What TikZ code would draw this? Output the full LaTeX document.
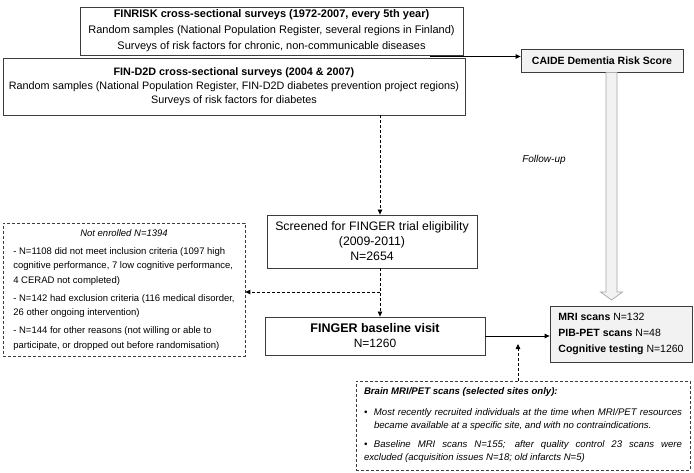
\documentclass[tikz,border=0pt]{standalone}
\usepackage{fontspec}
\setmainfont{Liberation Sans}
\usepackage{tikz}
\usetikzlibrary{
    arrows.meta,
    positioning,
    calc
}
\definecolor{boxborder}{HTML}{3C3C3C}
\definecolor{greyfill}{HTML}{F2F2F2}
\definecolor{arrowborder}{HTML}{A6A6A6}
\tikzset{
    surveybox/.style={
        rectangle, draw=boxborder, line width=0.8pt,
        inner sep=0pt, align=center
    },
    greybox/.style={
        surveybox, fill=greyfill
    },
    dashbox/.style={
        rectangle, draw=boxborder, line width=0.7pt,
        dash pattern=on 3pt off 2pt, inner sep=0pt
    },
    flow/.style={
        -{Triangle[length=5pt, width=4.5pt]}, line width=0.8pt
    },
    dash flow/.style={
        flow, dash pattern=on 3pt off 2pt
    },
    follow arrow/.style={
        draw=arrowborder, fill=greyfill, line width=0.7pt
    },
}

\begin{document}
\begin{tikzpicture}[x=1pt, y=-1pt]
    \useasboundingbox (0,0) rectangle (694,473);

    % Source surveys
    \node[surveybox, minimum width=383pt, minimum height=48pt,
          font=\fontsize{11}{16}\selectfont] (finrisk) at (271.5,31) {
        \textbf{FINRISK cross-sectional surveys (1972-2007, every 5th year)}\\
        Random samples (National Population Register, several regions in Finland)\\
        Surveys of risk factors for chronic, non-communicable diseases
    };
    \node[surveybox, minimum width=462pt, minimum height=57pt,
          font=\fontsize{10.8}{14}\selectfont] (find2d) at (234,86.5) {
        \textbf{FIN-D2D cross-sectional surveys (2004 \& 2007)}\\
        Random samples (National Population Register, FIN-D2D diabetes prevention project regions)\\
        Surveys of risk factors for diabetes
    };

    % Risk score and follow-up
    \node[greybox, minimum width=162pt, minimum height=23pt,
          font=\bfseries\fontsize{10.5}{12}\selectfont] (caide) at (602,60.5) {CAIDE Dementia Risk Score};
    \coordinate (caidein) at (430,56.5);
    \draw[flow] (caidein) -- (caidein -| caide.west);

    \coordinate (futop) at ($(caide.south)+(9.5,0)$);
    \coordinate (futip) at (futop |- 0,300);
    \draw[follow arrow] ($(futop)+(-5.5,0)$) -- ($(futip)+(-5.5,-8)$) -- ($(futip)+(-11,-8)$)
        -- (futip) -- ($(futip)+(11,-8)$) -- ($(futip)+(5.5,-8)$) -- ($(futop)+(5.5,0)$);
    \node[font=\itshape\fontsize{10}{12}\selectfont] (followup) at (544,160) {Follow-up};

    % Screening
    \node[surveybox, minimum width=210pt, minimum height=53pt,
          font=\fontsize{12.3}{15}\selectfont] (screen) at (372,241.5) {
        Screened for FINGER trial eligibility\\
        (2009-2011)\\
        N=2654
    };
    \node[dashbox, minimum width=242pt, minimum height=133pt,
          font=\fontsize{9.5}{14.5}\selectfont] (notenr) at (124,289.5) {
        \begin{tabular}{@{}l@{}}
            \multicolumn{1}{@{}c@{}}{\itshape Not enrolled N=1394}\\[3.5pt]
            - N=1108 did not meet inclusion criteria (1097 high\\
            cognitive performance, 7 low cognitive performance,\\
            4 CERAD not completed)\\[3.5pt]
            - N=142 had exclusion criteria (116 medical disorder,\\
            26 other ongoing intervention)\\[3.5pt]
            - N=144 for other reasons (not willing or able to\\
            participate, or dropped out before randomisation)
        \end{tabular}
    };
    \node[surveybox, minimum width=220pt, minimum height=38pt,
          font=\fontsize{12}{15}\selectfont] (finger) at (375,336) {
        \textbf{\fontsize{12.5}{15}\selectfont FINGER baseline visit}\\
        N=1260
    };

    % Baseline measurements
    \node[greybox, minimum width=142pt, minimum height=56pt, align=left,
          font=\fontsize{10.5}{16}\selectfont] (mri) at (621,334) {
        \textbf{MRI scans} N=132\\
        \textbf{PIB-PET scans} N=48\\
        \textbf{Cognitive testing} N=1260
    };
    \node[dashbox, minimum width=334pt, minimum height=89pt, text width=318pt,
          align=justify, font=\itshape\fontsize{9.6}{13}\selectfont] (brain) at (523,425.5) {
        \hyphenpenalty=10000\exhyphenpenalty=10000
        {\bfseries Brain MRI/PET scans (selected sites only):}\par\vspace{8pt}
        \hangindent=10pt\hangafter=1\noindent\makebox[10pt][l]{\textbullet}Most recently recruited individuals at the time when MRI/PET resources\linebreak became available at a specific site, and with no contraindications.\par\vspace{6pt}
        \hangindent=10pt\hangafter=1\noindent\makebox[10pt][l]{\textbullet}Baseline MRI scans N=155; after quality control 23 scans were\linebreak excluded (acquisition issues N=18; old infarcts N=5)
    };

    % Connectors
    \coordinate (trunk) at (380,0);
    \coordinate (split) at (380,292);
    \coordinate (mriup) at (518,344);
    \draw[dash flow] (find2d.south -| trunk) -- (screen.north -| trunk);
    \draw[dash flow] (screen.south -| trunk) -- (finger.north -| trunk);
    \draw[dash flow] (split) -- (split -| notenr.east);
    \draw[flow] (finger.east) -- (finger.east -| mri.west);
    \draw[dash flow] (brain.north -| mriup) -- (mriup);

\end{tikzpicture}
\end{document}
